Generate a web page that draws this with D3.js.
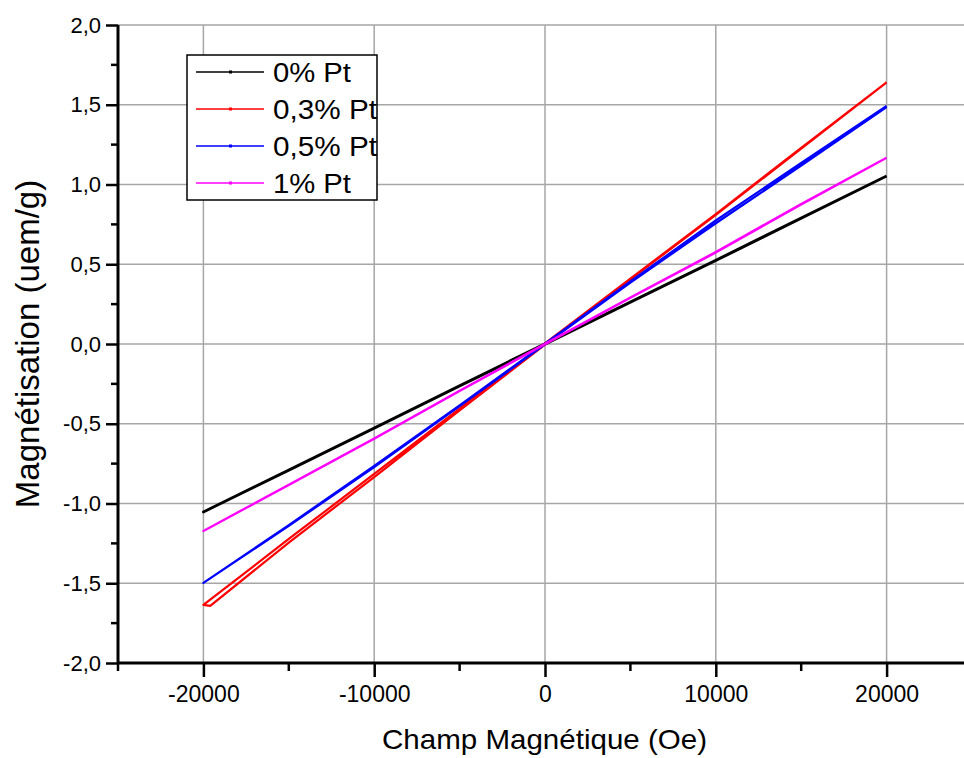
<!DOCTYPE html>
<html>
  <head>
    <meta charset="utf-8">
    <title>magnetisation</title>
    <style>
      body { margin: 0; background: #fff; }
      svg { display: block; font-family: "Liberation Sans", Arial, sans-serif; }
    </style>
  </head>
  <body>
    <div class="graph"></div>
    <script src="https://d3js.org/d3.v7.min.js"></script>
    <script>
        var w = 964, h = 758;

        // field goes 20000 -> -20000 -> 20000 (one loop)
        var fieldLoop = [20000, 15000, 10000, 5000, 0, -5000, -10000, -15000, -20000,
                         -15000, -10000, -5000, 0, 5000, 10000, 15000, 20000];
        var fieldRed = [20000, 15000, 10000, 5000, 0, -5000, -10000, -15000, -20000,
                        -19600, -15000, -10000, -5000, 0, 5000, 10000, 15000, 20000];

        var mBlack = [1.053, 0.79, 0.525, 0.263, 0.002, -0.262, -0.526, -0.79, -1.053,
                      -0.791, -0.528, -0.264, -0.002, 0.262, 0.523, 0.789, 1.053];
        var mRed = [1.64, 1.23, 0.815, 0.41, 0.004, -0.405, -0.815, -1.222, -1.636,
                    -1.642, -1.245, -0.834, -0.416, -0.004, 0.405, 0.81, 1.225, 1.64];
        var mBlue = [1.492, 1.135, 0.775, 0.392, 0.003, -0.385, -0.765, -1.135, -1.498,
                     -1.14, -0.772, -0.39, -0.003, 0.385, 0.757, 1.118, 1.486];
        var mPink = [1.168, 0.878, 0.577, 0.292, 0.002, -0.293, -0.592, -0.882, -1.172,
                     -0.884, -0.594, -0.295, -0.002, 0.29, 0.573, 0.875, 1.168];

        var names = ["0% Pt", "0,3% Pt", "0,5% Pt", "1% Pt"];
        var nameWidths = [78, 104, 104, 78];
        var colors = ["#000000", "#ff0000", "#0000ff", "#ff00ff"];
        var fields = [fieldLoop, fieldRed, fieldLoop, fieldLoop];
        var values = [mBlack, mRed, mBlue, mPink];

        var xMajor = [-20000, -10000, 0, 10000, 20000];
        var xMinor = [-25000, -15000, -5000, 5000, 15000, 25000];
        var yMajor = [-2, -1.5, -1, -0.5, 0, 0.5, 1, 1.5, 2];
        var yMinor = [-1.75, -1.25, -0.75, -0.25, 0.25, 0.75, 1.25, 1.75];

        var x = d3.scaleLinear().domain([-25000, 25000]).range([118, 972]);
        var y = d3.scaleLinear().domain([-2, 2]).range([663, 25]);
        var fmtY = function(v) { return d3.format(".1f")(v).replace(".", ",").replace("\u2212", "-"); };
        var fmtX = function(v) { return d3.format("d")(v).replace("\u2212", "-"); };

        var svg = d3.select(".graph")
        	.append("svg")
        	.attr("width", w)
        	.attr("height", h);

        // grid
        svg.selectAll(".gx").data(xMajor).enter().append("line")
        	.attr("x1", function(d) { return x(d); }).attr("x2", function(d) { return x(d); })
        	.attr("y1", y(2)).attr("y2", y(-2))
        	.attr("stroke", "#a6a6a6").attr("stroke-width", 1.5);
        svg.selectAll(".gy").data(yMajor).enter().append("line")
        	.attr("x1", x(-25000)).attr("x2", w)
        	.attr("y1", function(d) { return y(d); }).attr("y2", function(d) { return y(d); })
        	.attr("stroke", "#a6a6a6").attr("stroke-width", 1.5);

        // data
        svg.append("clipPath").attr("id", "plot").append("rect")
        	.attr("x", x(-25000)).attr("y", y(2)).attr("width", w - x(-25000)).attr("height", y(-2) - y(2));

        var line = d3.line()
        	.x(function(d) { return x(d[0]); })
        	.y(function(d) { return y(d[1]); });

        values.forEach(function(v, i) {
        	var pts = v.map(function(m, j) { return [fields[i][j], m]; });
        	svg.append("path")
        		.attr("d", line(pts))
        		.attr("fill", "none")
        		.attr("stroke", colors[i])
        		.attr("stroke-width", i == 0 ? 2.8 : 2.2)
        		.attr("stroke-linejoin", "round")
        		.attr("clip-path", "url(#plot)");
        });

        // axes
        var xAxis = d3.axisBottom(x).tickValues(xMajor).tickSize(14).tickPadding(9).tickFormat(fmtX);
        var gx = svg.append("g").attr("transform", "translate(0," + y(-2) + ")").call(xAxis);
        xMinor.forEach(function(d) {
        	gx.append("line").attr("x1", x(d)).attr("x2", x(d))
        		.attr("y1", 0).attr("y2", 8)
        		.attr("stroke", "#000").attr("stroke-width", 2.5);
        });

        var yAxis = d3.axisLeft(y).tickValues(yMajor).tickSize(12).tickPadding(5).tickFormat(fmtY);
        var gy = svg.append("g").attr("transform", "translate(" + x(-25000) + ",0)").call(yAxis);
        yMinor.forEach(function(d) {
        	gy.append("line").attr("x1", -7).attr("x2", 0)
        		.attr("y1", y(d)).attr("y2", y(d))
        		.attr("stroke", "#000").attr("stroke-width", 2.5);
        });

        [gx, gy].forEach(function(g) {
        	g.select(".domain").attr("stroke", "#000").attr("stroke-width", 3);
        	g.selectAll(".tick line").attr("stroke", "#000").attr("stroke-width", 2.5);
        	g.selectAll(".tick text").attr("fill", "#000").style("font-family", "Liberation Sans");
        });
        gx.selectAll(".tick text").style("font-size", "23px");
        gy.selectAll(".tick text").style("font-size", "22px");
        gx.select(".domain").attr("d", "M" + x(-25000) + ",0H" + w);
        gy.select(".domain").attr("d", "M0," + y(-2) + "V" + y(2));

        // axis titles
        svg.append("text")
        	.attr("x", 382).attr("y", 749)
        	.attr("textLength", 325).attr("lengthAdjust", "spacingAndGlyphs")
        	.style("font-size", "28px")
        	.text("Champ Magnétique (Oe)");
        svg.append("text")
        	.attr("transform", "translate(39," + y(0) + ") rotate(-90)")
        	.attr("text-anchor", "middle")
        	.style("font-size", "33px")
        	.text("Magnétisation (uem/g)");

        // legend
        var lg = svg.append("g").attr("transform", "translate(187,55)");
        lg.append("rect").attr("width", 190).attr("height", 145)
        	.attr("fill", "#fff").attr("stroke", "#000").attr("stroke-width", 1.5);
        names.forEach(function(n, i) {
        	var cy = 17 + i * 37;
        	lg.append("line").attr("x1", 9).attr("x2", 77).attr("y1", cy).attr("y2", cy)
        		.attr("stroke", colors[i]).attr("stroke-width", 1.5);
        	lg.append("rect").attr("x", 42).attr("y", cy - 1.5).attr("width", 3).attr("height", 3)
        		.attr("fill", colors[i]);
        	lg.append("text").attr("x", 86).attr("y", cy + 10)
        		.attr("textLength", nameWidths[i]).attr("lengthAdjust", "spacingAndGlyphs")
        		.style("font-size", "27px")
        		.text(n);
        });
    </script>
  </body>
</html>
